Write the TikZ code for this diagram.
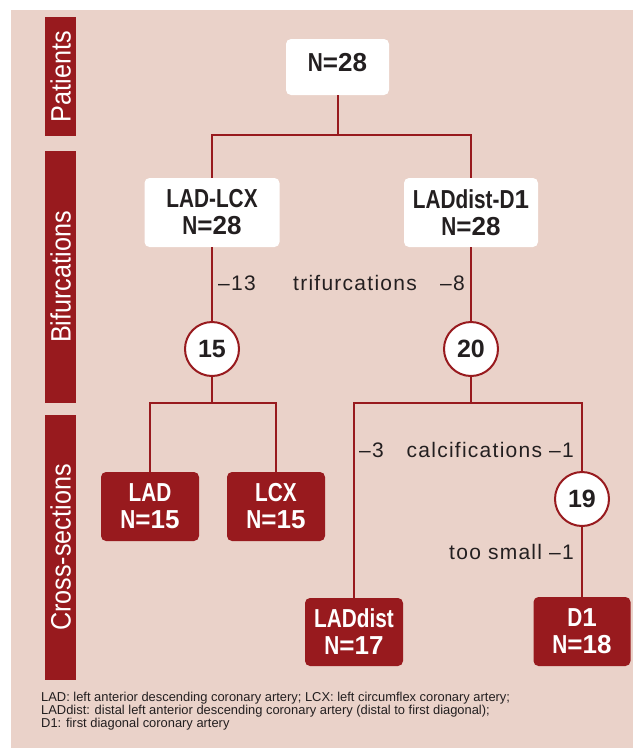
\documentclass[tikz,border=0pt]{standalone}
\usepackage{fontspec}
\setmainfont{Liberation Sans}
\newfontfamily\boxfont[FakeStretch=0.8]{Liberation Sans}
\newfontfamily\digfont{Liberation Sans}
\newfontfamily\sidefont[FakeStretch=0.9]{Liberation Sans}
\newfontfamily\lblfont[LetterSpace=6]{Liberation Sans}
\newfontfamily\notefont{Liberation Sans}
\newcommand{\nval}[1]{N{\digfont\bfseries =#1}}
\newcommand{\dg}[1]{{\digfont\bfseries #1}}
\definecolor{bgc}{RGB}{234,210,201}
\definecolor{redc}{RGB}{152,26,30}
\definecolor{txtc}{RGB}{35,31,32}
\begin{document}
\begin{tikzpicture}[x=1pt,y=-1pt,
  whitebox/.style={fill=white,rounded corners=5pt,inner sep=0pt,align=center,
    text=txtc,font=\boxfont\bfseries\fontsize{26}{27}\selectfont},
  redbox/.style={fill=redc,rounded corners=5pt,inner sep=0pt,align=center,
    text=white,font=\boxfont\bfseries\fontsize{26}{27}\selectfont,
    minimum width=98pt,minimum height=69pt},
  numcirc/.style={circle,draw=redc,line width=2pt,fill=white,minimum size=54pt,
    inner sep=0pt,text=txtc,font=\boxfont\bfseries\fontsize{25}{24}\selectfont},
  sidebar/.style={fill=redc,rotate=90,inner sep=0pt,minimum height=31pt,
    text=white,font=\sidefont\fontsize{28}{28}\selectfont},
  lbl/.style={inner sep=0pt,text=txtc,font=\lblfont\fontsize{21}{21}\selectfont},
  conn/.style={draw=redc,line width=2pt}]
\useasboundingbox (0,0) rectangle (633,748);
\fill[bgc] (11,10) rectangle (633,748);
% side bars
\node[sidebar,minimum width=119pt] (sp) at (60.5,76.5) {Patients};
\node[sidebar,minimum width=252pt] (sb) at (60.5,277) {Bifurcations};
\node[sidebar,minimum width=265pt] (sc) at (60.5,547.5) {Cross-sections};
% nodes
\node[whitebox,minimum width=103pt,minimum height=56pt,text depth=10pt] (top) at (337.5,67) {\nval{28}};
\node[whitebox,minimum width=135pt,minimum height=69pt] (lcx) at (212,212.5) {LAD-LCX\\\nval{28}};
\node[whitebox,minimum width=134pt,minimum height=69pt] (dd) at (471,212.5) {LADdist-D\dg{1}\\\nval{28}};
\node[numcirc] (c15) at (212,349) {\dg{15}};
\node[numcirc] (c20) at (471,349) {\dg{20}};
\node[redbox] (lad) at (150,506.5) {LAD\\\nval{15}};
\node[redbox] (lcxb) at (276,506.5) {LCX\\\nval{15}};
\node[numcirc] (c19) at (582,499) {\dg{19}};
\node[redbox,minimum height=68pt] (ladd) at (354,632) {LADdist\\\nval{17}};
\node[redbox,minimum width=97pt] (d1) at (582,631.5) {D\dg{1}\\\nval{18}};
% connectors
\draw[conn] (top.south) -- ++(0,40) -| (lcx.north);
\draw[conn] (top.south) -- ++(0,40) -| (dd.north);
\draw[conn] (lcx.south) -- (c15.north);
\draw[conn] (dd.south) -- (c20.north);
\draw[conn] (c15.south) -- ++(0,26) -| (lad.north);
\draw[conn] (c15.south) -- ++(0,26) -| (lcxb.north);
\draw[conn] (c20.south) -- ++(0,26) -| (ladd.north);
\draw[conn] (c20.south) -- ++(0,26) -| (c19.north);
\draw[conn] (c19.south) -- (d1.north);
% labels
\node[lbl,anchor=west] (m13) at (218,283) {–13};
\node[lbl] (tri) at (355,283) {trifurcations};
\node[lbl,anchor=east] (m8) at (465,283) {–8};
\node[lbl,anchor=west] (m3) at (359,450) {–3};
\node[lbl,anchor=east] (calc) at (574,450) {calcifications –1};
\node[lbl,anchor=east] (small) at (574,552) {too small –1};
% footnote
\node[anchor=north west,inner sep=0pt,align=left,text=txtc,
  font=\notefont\fontsize{12.9}{11.2}\selectfont] (note) at (41,691.5)
  {LAD: left anterior descending coronary artery; LCX: left circumflex coronary artery;\\
   LADdist: distal left anterior descending coronary artery (distal to first diagonal);\\
   D1: first diagonal coronary artery};
\end{tikzpicture}
\end{document}
